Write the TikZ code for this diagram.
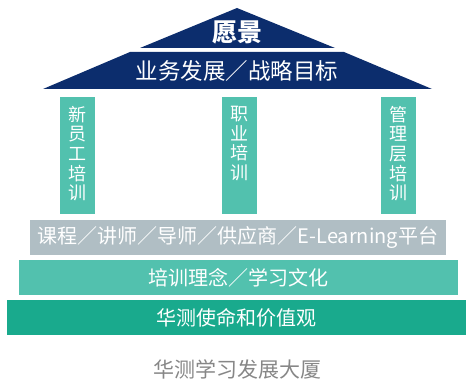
\documentclass[tikz,border=0pt]{standalone}
\usepackage{fontspec}
\setmainfont{Noto Sans CJK SC}
\definecolor{roofblue}{HTML}{0C2D6D}
\definecolor{pillarteal}{HTML}{52C1AE}
\definecolor{toolgray}{HTML}{B0BEC4}
\definecolor{basegreen}{HTML}{19AA8D}
\definecolor{captiongray}{HTML}{878787}

\begin{document}
\begin{tikzpicture}[
    x=1pt, y=-1pt,
    bar/.style ={
        rectangle,
        text=white,
        inner sep=0pt,
        minimum height=35pt,
        font=\fontsize{20}{20}\selectfont
    },
    pillar/.style ={
        rectangle,
        fill=pillarteal,
        inner sep=0pt,
        minimum width=35pt,
        minimum height=117pt
    },
    pillartext/.style ={
        text=white,
        inner sep=0pt,
        align=center,
        font=\fontsize{18}{19.7}\selectfont
    }
    ]
    \useasboundingbox (0,0) rectangle (466,379);

    % roof
    \fill[roofblue] (237,8) -- (335,48) -- (140,48) -- cycle;
    \fill[roofblue] (130,52) -- (344,52) -- (432,89) -- (43,89) -- cycle;
    \node[text=white, font=\fontsize{25}{25}\selectfont\bfseries] (vision) at (237,32) {愿景};
    \node[text=white, font=\fontsize{22.5}{22.5}\selectfont] (goal) at (237,71) {业务发展／战略目标};

    % pillars
    \foreach \x/ \pos/ \txt in {{p1/(77.5,155.5)/{新\\员\\工\\培\\训}},
                                {p2/(239.5,155.5)/{职\\业\\培\\训}},
                                {p3/(398.5,155.5)/{管\\理\\层\\培\\训}}} {
        \node[pillar] (\x) at \pos {};
        \node[pillartext, anchor=north] (\x t) at ([yshift=-9pt]\x.north) {\txt};
    }

    % foundation
    \foreach \x/ \pos/ \barw/ \col/ \txt in {{tools/(238,237.5)/416/toolgray/课程／讲师／导师／供应商／E-Learning平台},
                                            {culture/(238.5,277.5)/439/pillarteal/培训理念／学习文化},
                                            {mission/(236.5,317.5)/459/basegreen/华测使命和价值观}}
        \node[bar, fill=\col, minimum width=\barw pt] (\x) at \pos {\txt};

    \node[text=captiongray, font=\fontsize{21}{21}\selectfont] (title) at (237,369) {华测学习发展大厦};

\end{tikzpicture}
\end{document}
